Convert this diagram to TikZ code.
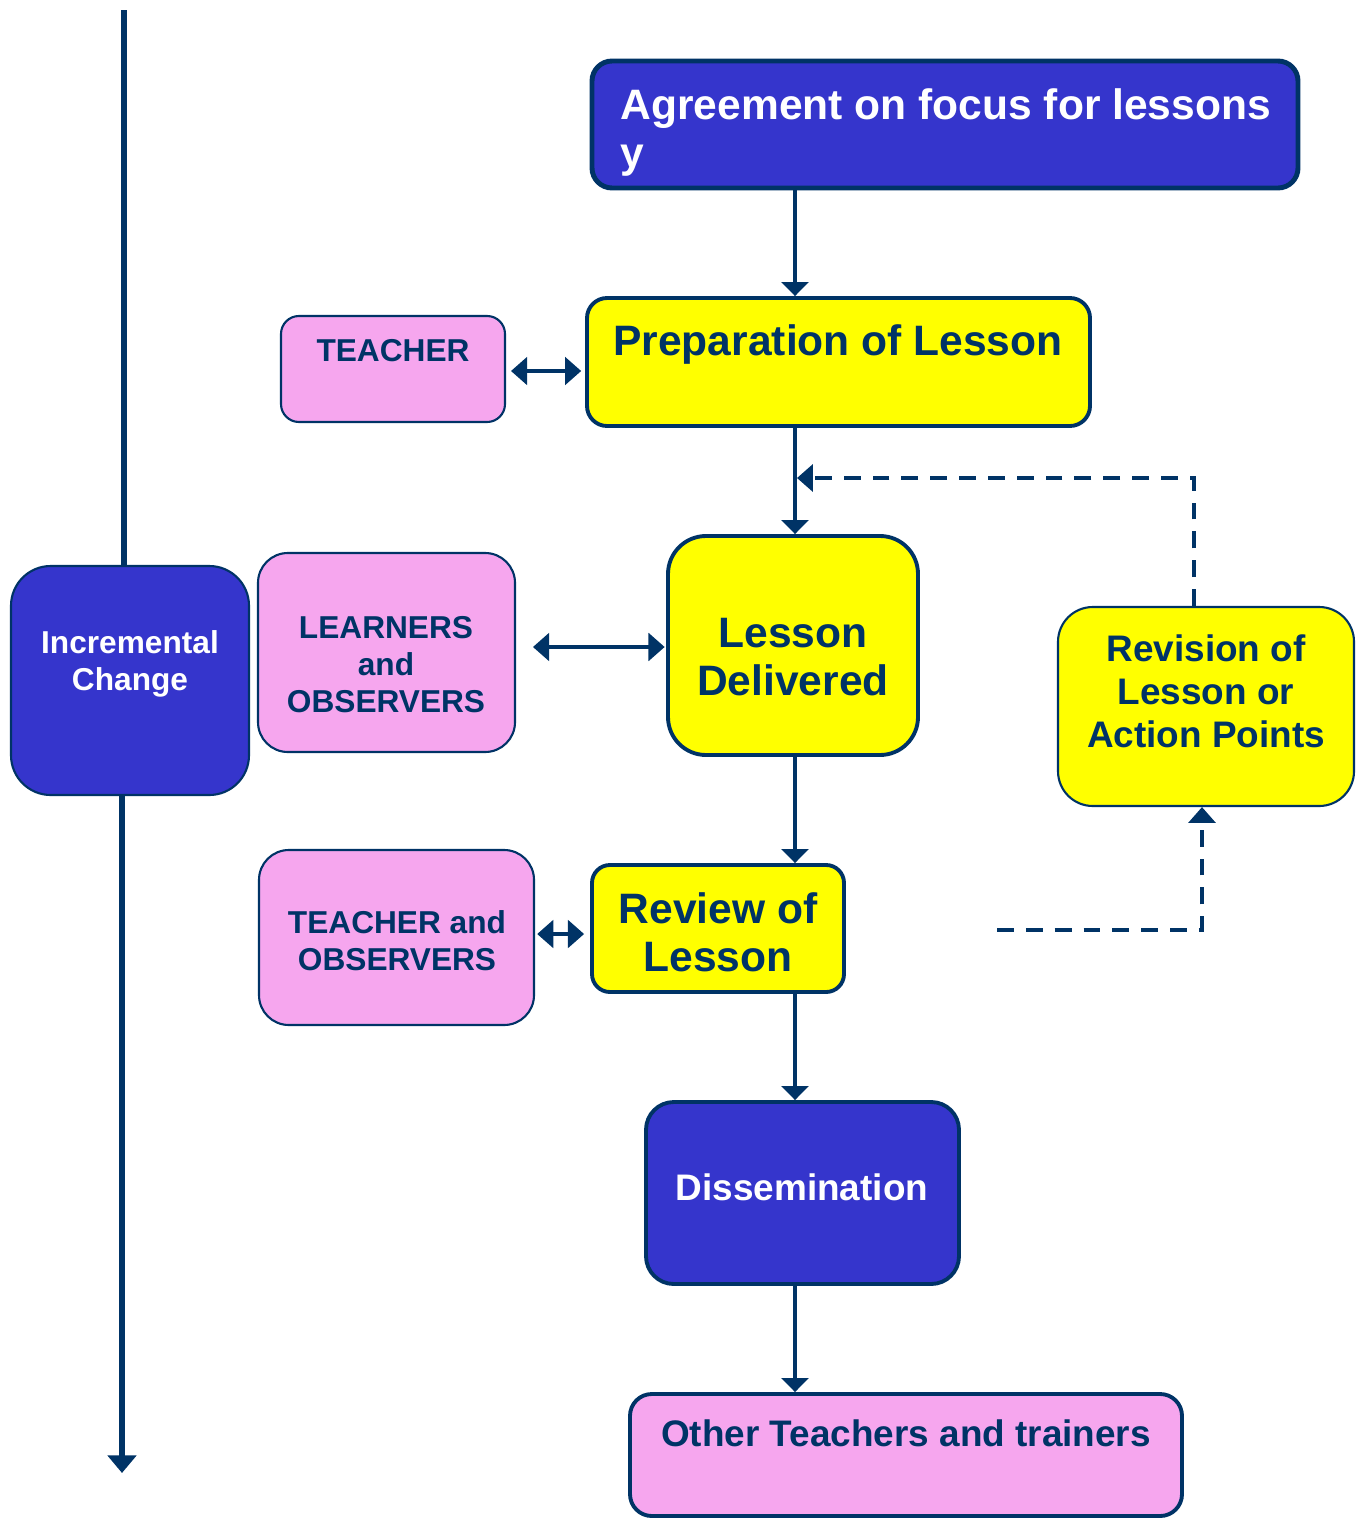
\documentclass[tikz,border=0pt]{standalone}
\usepackage{fontspec}
\setmainfont{Liberation Sans}
\usetikzlibrary{arrows.meta,fit}
\definecolor{navy}{RGB}{0,51,102}
\definecolor{bluefill}{RGB}{53,53,204}
\definecolor{pinkfill}{RGB}{246,166,238}
\definecolor{yellowfill}{RGB}{255,255,0}
\begin{document}
\begin{tikzpicture}[x=0.01cm,y=-0.01cm,
  box/.style={draw=navy, inner sep=0pt, rectangle, line width=1.1pt},
  thinbox/.style={box, line width=0.6pt},
  bluebox/.style={box, fill=bluefill},
  yelbox/.style={box, fill=yellowfill},
  pinkbox/.style={thinbox, fill=pinkfill},
  big/.style={font=\fontsize{12.1}{13.6}\selectfont\bfseries},
  mid/.style={font=\fontsize{10.5}{12.2}\selectfont\bfseries},
  small/.style={font=\fontsize{9}{10.5}\selectfont\bfseries},
  txt/.style={inner sep=0pt, anchor=base, align=center, text=navy},
  wtxt/.style={txt, text=white},
  flow/.style={draw=navy, line width=1.1pt, -{Triangle[width=7.6pt,length=4.0pt]}},
  both/.style={draw=navy, line width=1.1pt, {Triangle[width=7.8pt,length=4.6pt]}-{Triangle[width=7.8pt,length=4.6pt]}},
  fb/.style={draw=navy, line width=1.1pt, dash pattern=on 4.8pt off 3.4pt, -{Triangle[width=7.6pt,length=4.5pt]}},
  timeline/.style={draw=navy, line width=1.7pt}
]
\useasboundingbox (0,0) rectangle (1357,1518);

% timeline coordinates
\coordinate (ttop) at (124,10);
\coordinate (tend) at (122,1473);
\coordinate (vx) at (795,0);

% boxes
\node[bluebox, line width=1.4pt, rounded corners=5.7pt, fit={(592,61) (1298,188)}] (agree) {};
\node[yelbox, rounded corners=5.7pt, fit={(587,298) (1090,426)}] (prep) {};
\node[pinkbox, rounded corners=5.1pt, fit={(281,316) (505,422)}] (teach) {};
\node[yelbox, rounded corners=10.8pt, fit={(668,536) (918,755)}] (lesson) {};
\node[pinkbox, rounded corners=8.5pt, fit={(258,553) (515,752)}] (learn) {};
\node[bluebox, line width=0.6pt, rounded corners=11.3pt, fit={(11,566) (249,795)}] (inc) {};
\node[yelbox, line width=0.6pt, rounded corners=9.9pt, fit={(1058,607) (1354,806)}] (rev) {};
\node[pinkbox, rounded corners=8.5pt, fit={(259,850) (534,1025)}] (tob) {};
\node[yelbox, rounded corners=5.1pt, fit={(592,865) (844,992)}] (review) {};
\node[bluebox, rounded corners=7.9pt, fit={(646,1102) (959,1284)}] (diss) {};
\node[pinkbox, line width=1.1pt, rounded corners=6.2pt, fit={(630,1394) (1182,1516)}] (other) {};

% texts (base anchor = baseline of last line)
\node[wtxt, big, anchor=base west, align=left] (agree-t) at (620,167) {Agreement on focus for lessons\\y};
\node[txt, big] (prep-t) at (838,355) {Preparation of Lesson};
\node[txt, small] (teach-t) at (393,361) {TEACHER};
\node[txt, big] (lesson-t) at (793,695) {Lesson\\Delivered};
\node[txt, small] (learn-t) at (386,712) {LEARNERS\\and\\OBSERVERS};
\node[wtxt, small] (inc-t) at (130,690) {Incremental\\Change};
\node[txt, mid] (rev-t) at (1206,747) {Revision of\\Lesson or\\Action Points};
\node[txt, small] (tob-t) at (397,970) {TEACHER and\\OBSERVERS};
\node[txt, big] (review-t) at (718,971) {Review of\\Lesson};
\node[wtxt, mid] (diss-t) at (802,1200) {Dissemination};
\node[txt, mid] (other-t) at (906,1446) {Other Teachers and trainers};

% timeline
\draw[timeline] (ttop) -- (inc.north -| ttop);
\draw[timeline, -{Triangle[width=8pt,length=5pt]}] (inc.south -| tend) -- (tend);

% flow arrows
\draw[flow] (agree.south -| vx) -- (prep.north -| vx);
\draw[flow] (prep.south -| vx) -- (lesson.north -| vx);
\draw[flow] (lesson.south -| vx) -- (review.north -| vx);
\draw[flow] (review.south -| vx) -- (diss.north -| vx);
\draw[flow] (diss.south -| vx) -- (other.north -| vx);

% side arrows
\coordinate (ya) at (0,371);
\coordinate (yb) at (0,647);
\coordinate (yc) at (0,934);
\draw[both, shorten <=1.4pt, shorten >=1.1pt] (teach.east |- ya) -- (prep.west |- ya);
\draw[both, shorten <=4.8pt, shorten >=0.4pt] (learn.east |- yb) -- (lesson.west |- yb);
\draw[both, shorten <=0.6pt, shorten >=1.7pt] (tob.east |- yc) -- (review.west |- yc);

% feedback dashed arrows
\coordinate (fbx) at (1194,0);
\coordinate (fbend) at (797,478);
\draw[fb] (rev.north -| fbx) |- (fbend);
\coordinate (fbstart) at (997,930);
\coordinate (fbx2) at (1202,0);
\draw[fb] (fbstart) -| (rev.south -| fbx2);
\end{tikzpicture}
\end{document}
